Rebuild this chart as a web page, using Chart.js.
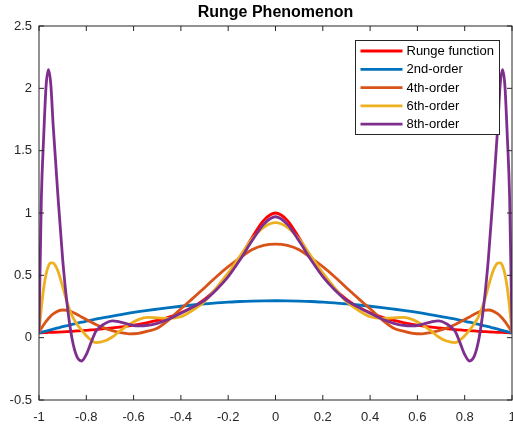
<!DOCTYPE html>
<html>
<head>
<meta charset="utf-8">
<title>Runge Phenomenon</title>
<script src="https://cdn.jsdelivr.net/npm/chart.js@4/dist/chart.umd.min.js"></script>
<style>
  html, body { margin: 0; padding: 0; background: #fff; }
  canvas { display: block; }
</style>
</head>
<body>
<canvas id="runge" width="513" height="427"></canvas>
<script>
// =========================================================================
// Data: sample positions and curve values
// =========================================================================
const xs = [
  -1, -0.99, -0.98, -0.97, -0.96, -0.95, -0.94, -0.92, -0.9, -0.88, -0.86,
  -0.84, -0.82, -0.8, -0.78, -0.76, -0.72, -0.69, -0.66, -0.62, -0.58, -0.54,
  -0.5, -0.45, -0.4, -0.35, -0.3, -0.25, -0.2, -0.15, -0.1, -0.05, 0,
  0.05, 0.1, 0.15, 0.2, 0.25, 0.3, 0.35, 0.4, 0.45, 0.5, 0.54, 0.58, 0.62,
  0.66, 0.69, 0.72, 0.76, 0.78, 0.8, 0.82, 0.84, 0.86, 0.88, 0.9, 0.92, 0.94,
  0.95, 0.96, 0.97, 0.98, 0.99, 1,
];

const rungeY = [
  0.038, 0.039, 0.040, 0.041, 0.042, 0.042, 0.043, 0.045, 0.047, 0.049, 0.051,
  0.054, 0.056, 0.059, 0.062, 0.065, 0.072, 0.078, 0.084, 0.094, 0.106, 0.121,
  0.138, 0.165, 0.200, 0.246, 0.308, 0.390, 0.500, 0.640, 0.800, 0.941, 1.000,
  0.941, 0.800, 0.640, 0.500, 0.390, 0.308, 0.246, 0.200, 0.165, 0.138, 0.121,
  0.106, 0.094, 0.084, 0.078, 0.072, 0.065, 0.062, 0.059, 0.056, 0.054, 0.051,
  0.049, 0.047, 0.045, 0.043, 0.042, 0.042, 0.041, 0.040, 0.039, 0.038,
];

const order2Y = [
  0.038, 0.043, 0.048, 0.053, 0.058, 0.063, 0.068, 0.078, 0.088, 0.097, 0.106,
  0.115, 0.124, 0.132, 0.140, 0.148, 0.162, 0.173, 0.183, 0.196, 0.208, 0.219,
  0.229, 0.241, 0.252, 0.262, 0.271, 0.279, 0.285, 0.290, 0.293, 0.295, 0.296,
  0.295, 0.293, 0.290, 0.285, 0.279, 0.271, 0.262, 0.252, 0.241, 0.229, 0.219,
  0.208, 0.196, 0.183, 0.173, 0.162, 0.148, 0.140, 0.132, 0.124, 0.115, 0.106,
  0.097, 0.088, 0.078, 0.068, 0.063, 0.058, 0.053, 0.048, 0.043, 0.038,
];

const order4Y = [
  0.040, 0.075, 0.103, 0.130, 0.154, 0.174, 0.190, 0.213, 0.222, 0.218, 0.206,
  0.188, 0.166, 0.145, 0.125, 0.106, 0.075, 0.056, 0.042, 0.031, 0.035, 0.052,
  0.076, 0.145, 0.232, 0.315, 0.400, 0.489, 0.570, 0.640, 0.705, 0.740, 0.750,
  0.740, 0.705, 0.640, 0.570, 0.489, 0.400, 0.315, 0.232, 0.145, 0.076, 0.052,
  0.035, 0.031, 0.042, 0.056, 0.075, 0.106, 0.125, 0.145, 0.166, 0.188, 0.206,
  0.218, 0.222, 0.213, 0.190, 0.174, 0.154, 0.130, 0.103, 0.075, 0.040,
];

const order6Y = [
  0.040, 0.240, 0.400, 0.510, 0.575, 0.600, 0.598, 0.535, 0.410, 0.275, 0.175,
  0.110, 0.060, 0.015, -0.020, -0.040, -0.025, 0.005, 0.050, 0.105, 0.145, 0.162,
  0.159, 0.154, 0.168, 0.220, 0.290, 0.400, 0.520, 0.655, 0.790, 0.885, 0.922,
  0.885, 0.790, 0.655, 0.520, 0.400, 0.290, 0.220, 0.168, 0.154, 0.159, 0.162,
  0.145, 0.105, 0.050, 0.005, -0.025, -0.040, -0.020, 0.015, 0.060, 0.110, 0.175,
  0.275, 0.410, 0.535, 0.598, 0.600, 0.575, 0.510, 0.400, 0.240, 0.040,
];

const order8Y = [
  0.040, 1.120, 1.620, 2.020, 2.150, 2.030, 1.700, 1.140, 0.630, 0.250, -0.010,
  -0.150, -0.187, -0.135, -0.040, 0.050, 0.115, 0.135, 0.127, 0.107, 0.094, 0.098,
  0.115, 0.150, 0.195, 0.245, 0.300, 0.385, 0.490, 0.625, 0.775, 0.910, 0.970,
  0.910, 0.775, 0.625, 0.490, 0.385, 0.300, 0.245, 0.195, 0.150, 0.115, 0.098,
  0.094, 0.107, 0.127, 0.135, 0.115, 0.050, -0.040, -0.135, -0.187, -0.150, -0.010,
  0.250, 0.630, 1.140, 1.700, 2.030, 2.150, 2.020, 1.620, 1.120, 0.040,
];

const seriesLabels = ["Runge function", "2nd-order", "4th-order", "6th-order", "8th-order"];
const seriesColors = ["#ff0000", "#0072bd", "#d95319", "#edb120", "#7e2f8e"];
const seriesValues = [rungeY, order2Y, order4Y, order6Y, order8Y];

const xTicks = [-1, -0.8, -0.6, -0.4, -0.2, 0, 0.2, 0.4, 0.6, 0.8, 1];
const yTicks = [-0.5, 0, 0.5, 1, 1.5, 2, 2.5];

const FONT = "'Liberation Sans', Arial, Helvetica, sans-serif";
const AXIS_COLOR = "#262626";

// =========================================================================
// Plugins: boxed axes with inward ticks, and a boxed legend
// =========================================================================
const boxAxes = {
  id: "boxAxes",
  afterDatasetsDraw(chart) {
    const { ctx, chartArea: a, scales } = chart;
    const tl = 5;
    ctx.save();
    ctx.strokeStyle = AXIS_COLOR;
    ctx.lineWidth = 1;
    ctx.strokeRect(a.left, a.top, a.right - a.left, a.bottom - a.top);
    ctx.beginPath();
    for (const t of scales.x.ticks) {
      const px = scales.x.getPixelForValue(t.value);
      ctx.moveTo(px, a.bottom);
      ctx.lineTo(px, a.bottom - tl);
      ctx.moveTo(px, a.top);
      ctx.lineTo(px, a.top + tl);
    }
    for (const t of scales.y.ticks) {
      const py = scales.y.getPixelForValue(t.value);
      ctx.moveTo(a.left, py);
      ctx.lineTo(a.left + tl, py);
      ctx.moveTo(a.right, py);
      ctx.lineTo(a.right - tl, py);
    }
    ctx.stroke();
    ctx.restore();
  },
};

const boxLegend = {
  id: "boxLegend",
  afterDraw(chart) {
    const { ctx, chartArea: a } = chart;
    const w = 144, h = 94, rowH = 18.3;
    const left = Math.round(a.right - 13 - w) + 0.5;
    const top = Math.round(a.top + 14) + 0.5;
    ctx.save();
    ctx.fillStyle = "#fff";
    ctx.fillRect(left, top, w, h);
    ctx.strokeStyle = AXIS_COLOR;
    ctx.lineWidth = 1;
    ctx.strokeRect(left, top, w, h);
    ctx.font = "13px " + FONT;
    ctx.textBaseline = "middle";
    ctx.textAlign = "left";
    chart.data.datasets.forEach((ds, i) => {
      const y = top + 10.5 + i * rowH;
      ctx.strokeStyle = ds.borderColor;
      ctx.lineWidth = 2.8;
      ctx.beginPath();
      ctx.moveTo(left + 5, y);
      ctx.lineTo(left + 47, y);
      ctx.stroke();
      ctx.fillStyle = "#000";
      ctx.fillText(ds.label, left + 51, y + 0.5);
    });
    ctx.restore();
  },
};

// =========================================================================
// Chart
// =========================================================================
const datasets = seriesLabels.map((label, k) => ({
  label,
  data: xs.map((x, i) => ({ x, y: seriesValues[k][i] })),
  borderColor: seriesColors[k],
  backgroundColor: seriesColors[k],
  borderWidth: 2.8,
  pointRadius: 0,
  fill: false,
  cubicInterpolationMode: "monotone",
  order: seriesLabels.length - k, // last series drawn on top
}));

const tickFont = { family: FONT, size: 13 };

new Chart(document.getElementById("runge"), {
  type: "line",
  data: { datasets },
  options: {
    responsive: false,
    devicePixelRatio: 1,
    animation: false,
    layout: { padding: { left: 0, right: 1, top: 0, bottom: 0 } },
    plugins: {
      legend: { display: false },
      tooltip: { enabled: false },
      title: {
        display: true,
        fullSize: false, // centred over the plot area, not the canvas
        text: "Runge Phenomenon",
        color: "#000",
        font: { family: FONT, size: 16, weight: "bold" },
        padding: { top: 2.5, bottom: 4.3 },
      },
    },
    scales: {
      x: {
        type: "linear",
        min: -1,
        max: 1,
        afterBuildTicks: (s) => { s.ticks = xTicks.map((v) => ({ value: v })); },
        afterFit: (s) => { s.height = 27; s.paddingLeft = 0; s.paddingRight = 0; },
        grid: { display: false, drawTicks: false },
        border: { display: false },
        ticks: {
          color: AXIS_COLOR,
          font: tickFont,
          padding: 10,
          maxRotation: 0,
          autoSkip: false,
          callback: (v) => String(v),
        },
      },
      y: {
        type: "linear",
        min: -0.5,
        max: 2.5,
        afterBuildTicks: (s) => { s.ticks = yTicks.map((v) => ({ value: v })); },
        afterFit: (s) => { s.width = 39; s.paddingTop = 0; s.paddingBottom = 0; },
        grid: { display: false, drawTicks: false },
        border: { display: false },
        ticks: {
          color: AXIS_COLOR,
          font: tickFont,
          padding: 7,
          autoSkip: false,
          callback: (v) => String(v),
        },
      },
    },
  },
  plugins: [boxAxes, boxLegend],
});
</script>
</body>
</html>
